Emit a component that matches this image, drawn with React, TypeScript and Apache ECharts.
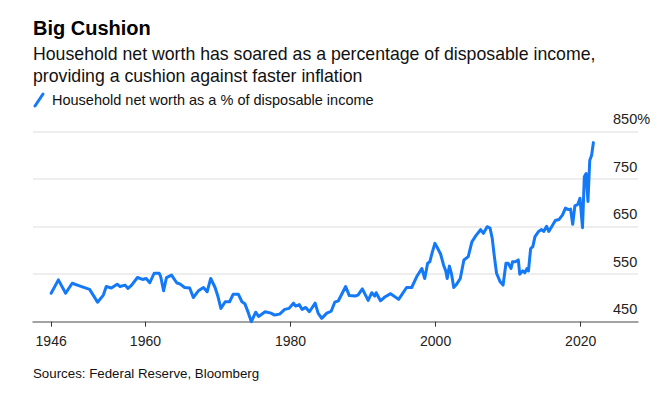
import React, { useEffect, useRef } from "react";
import * as echarts from "echarts";

const titleText = "Big Cushion";
const subtitleLines = [
  "Household net worth has soared as a percentage of disposable income,",
  "providing a cushion against faster inflation",
];
const legendText = "Household net worth as a % of disposable income";
const sourceText = "Sources: Federal Reserve, Bloomberg";

const xTickValues = [1947, 1960, 1980, 2000, 2020];
const xTickLabels = ["1946", "1960", "1980", "2000", "2020"];
const yTickValues = [450, 550, 650, 750, 850];

const years = [
  1947.0, 1948.0, 1949.0, 1949.9, 1951.0, 1952.3, 1952.8, 1953.4, 1954.2, 1954.6,
  1955.3, 1956.1, 1956.5, 1957.2, 1957.6, 1958.1, 1958.9, 1959.6, 1960.1, 1960.6,
  1961.2, 1961.9, 1962.1, 1962.5, 1962.9, 1963.6, 1964.3, 1964.8, 1965.4, 1966.1,
  1966.6, 1967.3, 1968.0, 1968.5, 1969.0, 1969.6, 1970.0, 1970.4, 1971.0, 1971.6,
  1972.1, 1972.8, 1973.3, 1973.7, 1974.2, 1974.6, 1975.2, 1975.6, 1976.5, 1977.3,
  1977.8, 1978.5, 1979.2, 1979.8, 1980.4, 1980.7, 1981.2, 1981.6, 1982.1, 1982.6,
  1983.4, 1983.8, 1984.3, 1985.0, 1985.6, 1986.1, 1986.6, 1987.6, 1988.1, 1988.9,
  1989.3, 1989.9, 1990.7, 1991.2, 1991.6, 1991.8, 1992.4, 1993.0, 1993.8, 1994.9,
  1995.3, 1996.0, 1996.7, 1997.4, 1998.1, 1998.5, 1998.9, 1999.2, 1999.5, 1999.9,
  2000.2, 2000.7, 2001.1, 2001.4, 2001.6, 2001.9, 2002.2, 2002.5, 2002.9, 2003.4,
  2003.9, 2004.5, 2005.0, 2005.5, 2006.2, 2006.6, 2007.1, 2007.5, 2007.8, 2008.1,
  2008.4, 2008.9, 2009.3, 2009.7, 2010.0, 2010.4, 2010.6, 2011.0, 2011.4, 2011.6,
  2012.0, 2012.3, 2012.6, 2012.8, 2013.1, 2013.4, 2013.7, 2014.2, 2014.6, 2014.9,
  2015.3, 2015.6, 2016.0, 2016.5, 2017.0, 2017.5, 2017.9, 2018.3, 2018.6, 2018.9,
  2019.2, 2019.6, 2019.9, 2020.25, 2020.5, 2020.75, 2021.0, 2021.25, 2021.5, 2021.75,
];

const netWorthPct = [
  510, 538, 510, 531, 525, 518, 506, 491, 506, 524,
  521, 529, 524, 527, 520, 527, 543, 539, 541, 532,
  552, 552, 545, 515, 543, 548, 532, 529, 522, 521,
  501, 515, 522, 513, 541, 522, 503, 478, 492, 492,
  508, 508, 492, 488, 468, 450, 470, 461, 471, 468,
  464, 466, 476, 478, 489, 483, 486, 476, 480, 471,
  489, 468, 457, 468, 472, 491, 494, 524, 505, 504,
  506, 519, 495, 511, 504, 511, 494, 502, 509, 497,
  506, 522, 522, 545, 562, 541, 573, 576, 594, 615,
  607, 592, 569, 557, 541, 567, 550, 522, 529, 541,
  580, 587, 618, 630, 644, 636, 650, 647, 626, 587,
  552, 534, 527, 573, 573, 562, 576, 576, 580, 550,
  557, 553, 562, 557, 604, 608, 629, 640, 644, 640,
  651, 640, 650, 663, 665, 675, 689, 686, 687, 655,
  694, 697, 710, 648, 755, 762, 703, 790, 800, 827,
];

const BLUE = "#1479f7";
const FONT = "'Liberation Sans', Arial, Helvetica, sans-serif";

export default function App() {
  const ref = useRef<HTMLDivElement>(null);

  useEffect(() => {
    document.body.style.margin = "0";
    if (!ref.current) return;
    const chart = echarts.init(ref.current, undefined, { renderer: "svg" });
    const data = years.map((y, i) => [y, netWorthPct[i]]);

    const txt = (text: string, x: number, y: number, font: string, fill = "#111111") => ({
      type: "text",
      x,
      y,
      style: {
        text,
        font,
        fill,
        align: "left",
        verticalAlign: "middle",
        textAlign: "left",
        textVerticalAlign: "middle",
      },
    });

    chart.setOption({
      animation: false,
      backgroundColor: "#ffffff",
      textStyle: { fontFamily: FONT },
      grid: { left: 33, right: 22, top: 131.7, bottom: 73.3, containLabel: false },
      xAxis: {
        type: "value",
        min: 1944.5,
        max: 2027.9,
        splitLine: { show: false },
        axisLine: { show: true, lineStyle: { color: "#8a8a8a", width: 1.5 } },
        axisTick: {
          show: true,
          customValues: xTickValues,
          length: 5,
          lineStyle: { color: "#333333", width: 1 },
        },
        axisLabel: {
          customValues: xTickValues,
          formatter: (v: number) => {
            const i = xTickValues.indexOf(Math.round(v));
            return i >= 0 ? xTickLabels[i] : "";
          },
          color: "#222222",
          fontSize: 14,
          fontFamily: FONT,
          margin: 12,
        },
      },
      yAxis: {
        type: "value",
        position: "right",
        min: 450,
        max: 850,
        interval: 100,
        splitLine: { show: true, lineStyle: { color: "#e9e9e9", width: 1.5 } },
        axisLine: { show: false },
        axisTick: { show: false },
        axisLabel: {
          customValues: yTickValues,
          formatter: (v: number) => (v === 850 ? "850%" : String(v)),
          color: "#222222",
          fontSize: 14.5,
          fontFamily: FONT,
          margin: -25,
          align: "left",
          verticalAlign: "bottom",
          padding: [0, 0, 5, 0],
        },
      },
      series: [
        {
          type: "line",
          data,
          showSymbol: false,
          clip: false,
          lineStyle: { color: BLUE, width: 3, join: "round", cap: "round" },
          itemStyle: { color: BLUE },
        },
      ],
      graphic: [
        txt(titleText, 33, 28, `bold 20px ${FONT}`, "#000000"),
        ...subtitleLines.map((t, i) => txt(t, 33, 54 + i * 21.5, `17.7px ${FONT}`)),
        {
          type: "line",
          shape: { x1: 35, y1: 106, x2: 43, y2: 94 },
          style: { stroke: BLUE, lineWidth: 3, lineCap: "round" },
        },
        txt(legendText, 52, 100, `14.5px ${FONT}`),
        txt(sourceText, 33, 373, `13.3px ${FONT}`),
      ],
    });

    return () => {
      chart.dispose();
    };
  }, []);

  return <div ref={ref} style={{ width: 660, height: 395 }} />;
}
